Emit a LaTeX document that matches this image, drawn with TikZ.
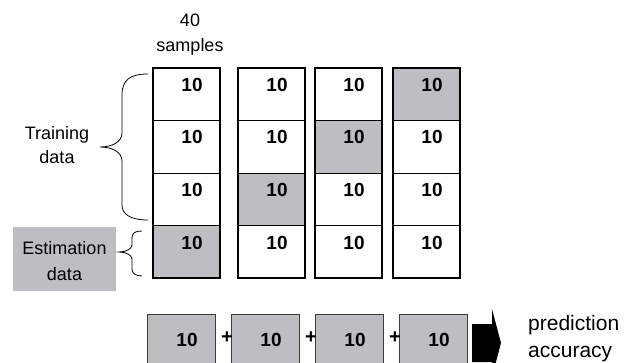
\documentclass[tikz,border=0pt]{standalone}
\usepackage{fontspec}
\setmainfont{Liberation Sans}
\definecolor{cellgray}{RGB}{190,190,194}
\definecolor{boxline}{RGB}{60,60,60}
\begin{document}
\begin{tikzpicture}[x=1pt,y=-1pt,
  cell/.style={draw=black, line width=0.7pt, minimum width=67pt, minimum height=52.5pt, inner sep=0pt, outer sep=0pt},
  num/.style={font=\fontsize{19}{21}\selectfont\bfseries, anchor=base, inner sep=0pt},
  lbl/.style={font=\fontsize{18}{20}\selectfont, anchor=base, inner sep=0pt},
  big/.style={font=\fontsize{21}{24}\selectfont, anchor=base west, inner sep=0pt},
  sumbox/.style={draw=boxline, line width=0.8pt, fill=cellgray, minimum width=68pt, minimum height=70pt, inner sep=0pt, outer sep=0pt, anchor=north west},
  plus/.style={font=\fontsize{20}{22}\selectfont\bfseries, inner sep=0pt},
  bracepath/.style={line width=0.8pt}
]
\useasboundingbox (0,0) rectangle (636,363);
\clip (0,0) rectangle (636,363);

% header
\node[lbl] (forty) at (190,27) {40};
\node[lbl] (samples) at (190,52) {samples};

% columns
\foreach \x/\g [count=\c] in {153/4,238/3,315/2,393/1} {
  \foreach \r in {1,...,4} {
    \ifnum\r=\g \def\fc{cellgray}\else\def\fc{white}\fi
    \node[cell, fill=\fc, anchor=north west] (c\c r\r) at (\x, {68+(\r-1)*52.5}) {};
    \node[num] (t\c r\r) at (\x+39, {68+(\r-1)*52.5+23.5}) {10};
  }
  \draw[line width=1.5pt] (c\c r1.north west) rectangle (c\c r4.south east);
}

% Training brace and label
\coordinate (tbtop) at (148,74);
\coordinate (tbtip) at (100,147);
\coordinate (tbbot) at (148,220);
\draw[bracepath] (tbtop) .. controls (130,74) and (122,80) .. (122,95) -- (122,133)
  .. controls (122,142) and (112,147) .. (tbtip)
  .. controls (112,147) and (122,152) .. (122,161) -- (122,205)
  .. controls (122,214) and (130,220) .. (tbbot);
\node[lbl] (train1) at (57,140) {Training};
\node[lbl] (train2) at (57,164) {data};

% Estimation box and brace
\node[fill=cellgray, minimum width=103pt, minimum height=64pt, inner sep=0pt, anchor=north west] (estbox) at (13,227) {};
\node[lbl] (est1) at (64.5,254) {Estimation};
\node[lbl] (est2) at (64.5,280) {data};
\coordinate (ebtop) at (142,231);
\coordinate (ebtip) at (119,252);
\coordinate (ebbot) at (142,276);
\draw[bracepath] (ebtop) .. controls (135,231) and (132,233) .. (132,238) -- (132,245)
  .. controls (132,249) and (126,252) .. (ebtip)
  .. controls (126,252) and (132,255) .. (132,259) -- (132,269)
  .. controls (132,273) and (135,276) .. (ebbot);

% bottom sum row
\foreach \x [count=\k] in {147,231,315,399} {
  \node[sumbox] (s\k) at (\x,314) {};
  \node[num] (st\k) at (\x+40,346) {10};
}
\node[plus] (p1) at (227,338) {+};
\node[plus] (p2) at (311,338) {+};
\node[plus] (p3) at (395,338) {+};

% arrow
\fill[black] (472,324) -- (492,324) -- (492,309) -- (501,343) -- (492,377) -- (492,362) -- (472,362) -- cycle;
\node[big] (pred) at (528,330) {prediction};
\node[big] (acc) at (528,357) {accuracy};
\end{tikzpicture}
\end{document}
